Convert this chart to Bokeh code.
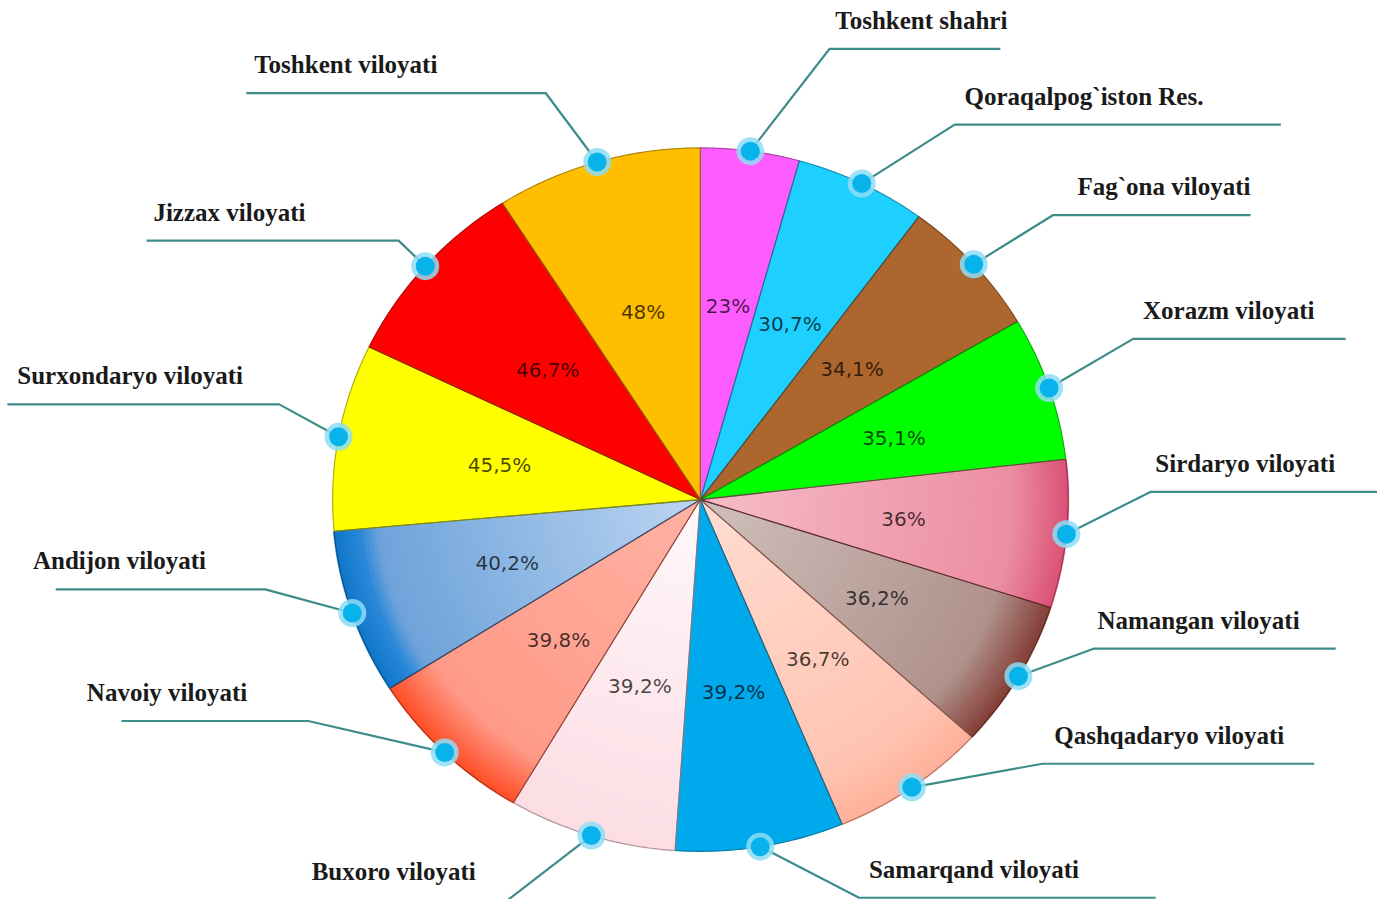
import numpy as np
from bokeh.plotting import figure
from bokeh.models import Range1d
from bokeh.embed import file_html
from bokeh.resources import INLINE
from bokeh.core.properties import value

# ---------------- data ----------------
regions = ["Toshkent shahri", "Qoraqalpog`iston Res.", "Fag`ona viloyati", "Xorazm viloyati",
           "Sirdaryo viloyati", "Namangan viloyati", "Qashqadaryo viloyati", "Samarqand viloyati",
           "Buxoro viloyati", "Navoiy viloyati", "Andijon viloyati", "Surxondaryo viloyati",
           "Jizzax viloyati", "Toshkent viloyati"]
values = [23, 30.7, 34.1, 35.1, 36, 36.2, 36.7, 39.2, 39.2, 39.8, 40.2, 45.5, 46.7, 48]
pct_labels = ["23%", "30,7%", "34,1%", "35,1%", "36%", "36,2%", "36,7%", "39,2%", "39,2%",
              "39,8%", "40,2%", "45,5%", "46,7%", "48%"]

# ---------------- styles ----------------
fills = [
    [(0, "#FF5CFF"), (1, "#FF5CFF")],
    [(0, "#1DD0FF"), (1, "#1DD0FF")],
    [(0, "#AC662E"), (1, "#AC662E")],
    [(0, "#00FF00"), (1, "#00FF00")],
    [(0, "#F6BCC8"), (0.85, "#EC8EA2"), (1, "#DA5276")],
    [(0, "#CFC0BB"), (0.85, "#B0928C"), (1, "#843E36")],
    [(0, "#FFDDD2"), (0.85, "#FFC4B2"), (1, "#FFB09A")],
    [(0, "#00A9EC"), (1, "#00A9EC")],
    [(0, "#FFF8FA"), (1, "#FCDDE4")],
    [(0, "#FFB2A4"), (0.86, "#FF9A88"), (1, "#FF4E26")],
    [(0, "#BCD5F2"), (0.88, "#6FA3DA"), (0.93, "#2A88D8"), (1, "#0F76CA")],
    [(0, "#FFFF00"), (1, "#FFFF00")],
    [(0, "#FF0000"), (1, "#FF0000")],
    [(0, "#FFBE00"), (1, "#FFBE00")],
]
# leader layout: elbow offset from dot (dx, dy), horizontal length, text x offset from line's left end
leader_layout = [
    (80, -104, 173, 6), (94, -60, 330, 10), (80, -50, 200, 25), (85, -50, 215, 10),
    (85, -43, 230, 5), (76, -28, 245, 4), (132, -24, 275, 12), (100, 52, 300, 10),
    (-85, 66, 260, 62), (-138, -32, 189, -35), (-88, -24, 212, -23), (-60, -33, 275, 10),
    (-27, -26, 255, 7), (-52, -70, 303, 8),
]

CX, CY, RX, RY = 708, 508, 372, 358
LAB_R = 0.555
W, H = 1377, 899
VX, VY = 1393, 915


def hex2rgb(h):
    h = h.lstrip("#")
    return np.array([int(h[i:i + 2], 16) for i in (0, 2, 4)], dtype=float)


def rgb2hex(c):
    c = np.clip(np.round(c), 0, 255).astype(int)
    return "#%02X%02X%02X" % tuple(c)


def color_at(stops, t):
    for (t0, c0), (t1, c1) in zip(stops[:-1], stops[1:]):
        if t <= t1:
            f = 0 if t1 == t0 else (t - t0) / (t1 - t0)
            return rgb2hex(hex2rgb(c0) * (1 - f) + hex2rgb(c1) * f)
    return stops[-1][1]


def pt(theta, r):
    return CX + RX * r * np.sin(theta), CY - RY * r * np.cos(theta)


def sector(a0, a1, r0, r1, n=60):
    th = np.linspace(a0, a1, n)
    xo, yo = pt(th, r1)
    if r0 <= 0:
        xs = np.concatenate([[CX], xo])
        ys = np.concatenate([[CY], yo])
    else:
        xi, yi = pt(th[::-1], r0)
        xs = np.concatenate([xo, xi])
        ys = np.concatenate([yo, yi])
    return list(xs), list(ys)


p = figure(width=W, height=H, x_range=Range1d(0, VX), y_range=Range1d(VY, 0),
           output_backend="svg", toolbar_location=None, min_border=0)
p.axis.visible = False
p.grid.visible = False
p.outline_line_color = None
p.background_fill_color = "white"

total = sum(values)
angles = np.cumsum([0] + values) / total * 2 * np.pi

band_x, band_y, band_c = [], [], []
out_x, out_y, out_c = [], [], []
NB = 90
for i, v in enumerate(values):
    a0, a1 = angles[i], angles[i + 1]
    stops = fills[i]
    if len(stops) == 2 and stops[0][1] == stops[1][1]:
        xs, ys = sector(a0, a1, 0, 1)
        band_x.append(xs); band_y.append(ys); band_c.append(stops[0][1])
    else:
        for k in range(NB):
            r0, r1 = k / NB, (k + 1) / NB
            xs, ys = sector(a0, a1, r0, r1 + 0.002)
            band_x.append(xs); band_y.append(ys); band_c.append(color_at(stops, (r0 + r1) / 2))
    xs, ys = sector(a0, a1, 0, 1)
    out_x.append(xs); out_y.append(ys)
    out_c.append(rgb2hex(hex2rgb(stops[-1][1]) * 0.55))

p.patches(band_x, band_y, fill_color=band_c, line_color=band_c, line_width=0.6)
p.patches(out_x, out_y, fill_alpha=0, line_color=out_c, line_width=1.1, line_alpha=0.75)

# percent labels
mids = (angles[:-1] + angles[1:]) / 2
lx, ly = pt(mids, LAB_R)
p.text(x=list(lx), y=list(ly), text=pct_labels, text_align="center", text_baseline="middle",
       text_font=value("DejaVu Sans"), text_font_size="20px", text_color="black", text_alpha=0.72)

# leader lines, dots, region labels
dx_, dy_ = pt(mids, 1.0)
lines_x, lines_y, tx, ty = [], [], [], []
for i in range(len(values)):
    ex_off, ey_off, length, toff = leader_layout[i]
    x0, y0 = dx_[i], dy_[i]
    ex, ey = x0 + ex_off, y0 + ey_off
    if ex_off >= 0:
        end = ex + length
        left = ex
    else:
        end = ex - length
        left = end
    lines_x.append([x0, ex, end]); lines_y.append([y0, ey, ey])
    tx.append(left + toff); ty.append(ey - 29)

p.multi_line(lines_x, lines_y, line_color="#3D8C8A", line_width=2.2, line_join="round")
p.scatter(list(dx_), list(dy_), size=28, fill_color="#8EDDF6", fill_alpha=0.85, line_color=None)
p.scatter(list(dx_), list(dy_), size=19, fill_color="#08B2EA", line_color=None)
p.text(x=tx, y=ty, text=regions, text_align="left", text_baseline="alphabetic",
       text_font=value("Liberation Serif"), text_font_style="bold", text_font_size="25px",
       text_color="#1A1A1A")

open("out.html", "w").write(file_html(p, INLINE))
